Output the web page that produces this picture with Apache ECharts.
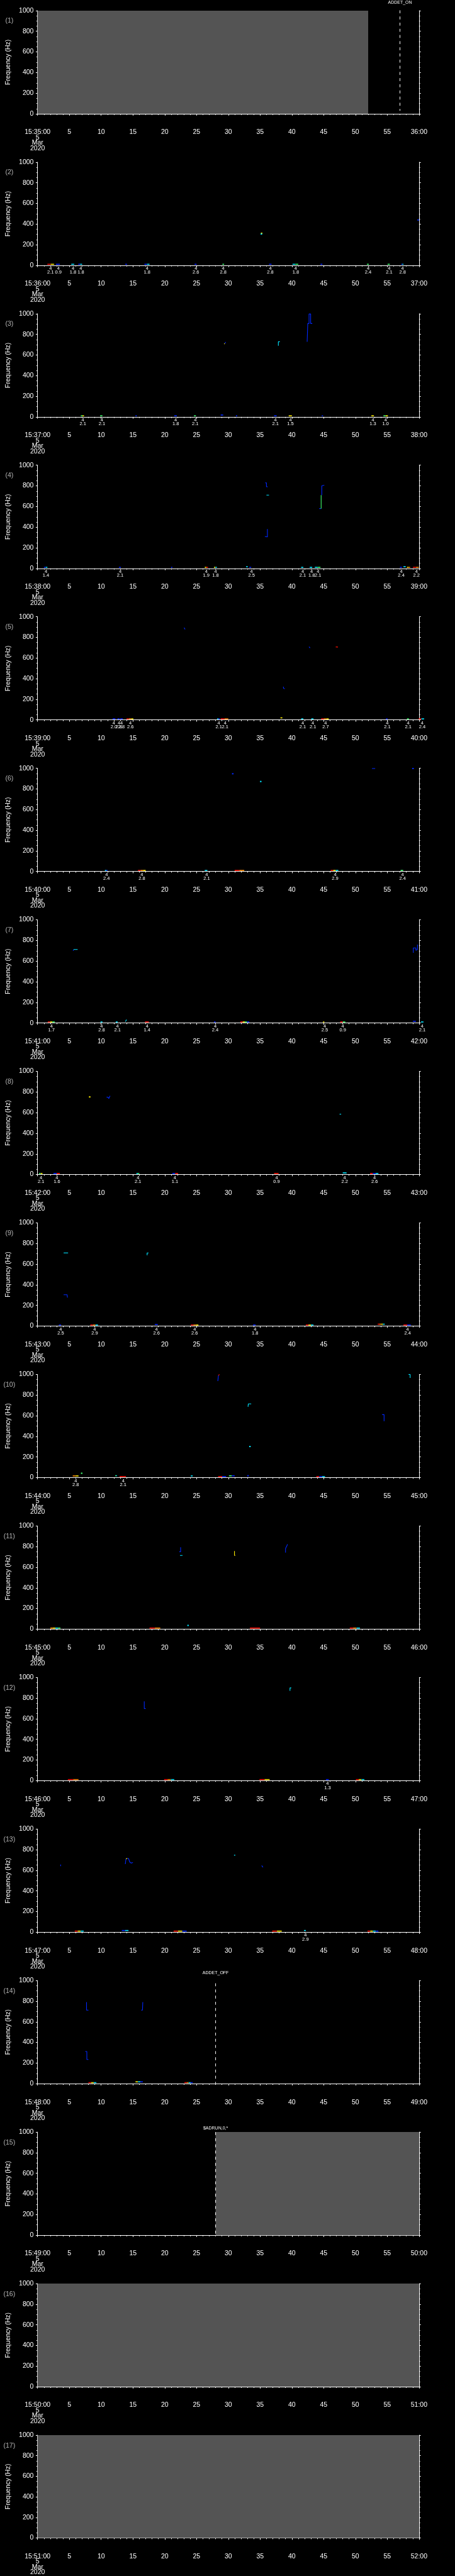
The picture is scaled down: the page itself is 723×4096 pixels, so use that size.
<!DOCTYPE html>
<html>
<head>
<meta charset="utf-8">
<script src="https://cdn.jsdelivr.net/npm/echarts@6/dist/echarts.min.js"></script>
<style>
html,body{margin:0;padding:0;background:#000;overflow:hidden;}
#chart{width:723px;height:4096px;}
</style>
</head>
<body>
<div id="chart"></div>
<script>
// ---------------- DATA ----------------
const startLabels = ['15:35:00','15:36:00','15:37:00','15:38:00','15:39:00','15:40:00','15:41:00','15:42:00','15:43:00','15:44:00','15:45:00','15:46:00','15:47:00','15:48:00','15:49:00','15:50:00','15:51:00'];
const endLabels = ['36:00','37:00','38:00','39:00','40:00','41:00','42:00','43:00','44:00','45:00','46:00','47:00','48:00','49:00','50:00','51:00','52:00'];
const dateLines = ['5','Mar','2020'];
const xTicks = [0,5,10,15,20,25,30,35,40,45,50,55,60];
const yTicks = [0,200,400,600,800,1000];

// gray "no data" bands: [panelIndex, tStart, tEnd]
const grayBands = [[0,0,52],[14,28,60],[15,0,60],[16,0,60]];
// flag lines: [panelIndex, t, fTop, fBottom, label]
const flags = [[0,57,1003,29,'ADDET_ON'],[13,28,973,2,'ADDET_OFF'],[14,28,1000,0,'$ADRUN,0,*']];

// low-frequency streaks: [t0, t1, colours, fCentre(optional)]
const streaks2 = [[1.54,2.59,'ry'],[2.9,3.5,'b'],[5.3,5.76,'c'],[6.4,7.0,'bc'],[13.8,14.06,'b'],[16.8,17.6,'bc'],[24.7,25.0,'b'],[29.07,29.34,'g'],[36.4,36.8,'b'],[40.1,41.0,'cg'],[44.5,44.8,'b'],[51.8,52.1,'g'],[55.05,55.4,'g'],[57.2,57.55,'bc']];
const streaks3 = [[6.8,7.3,'gy'],[9.84,10.2,'g'],[15.4,15.6,'b'],[21.5,21.9,'b'],[24.6,24.9,'g'],[28.8,29.2,'b',18],[31.2,31.4,'b'],[37.2,37.6,'b'],[39.5,40.0,'y'],[44.7,44.9,'b'],[52.5,52.9,'y'],[54.4,55.1,'gy']];
const streaks4 = [[1.0,1.54,'bc'],[12.8,13.1,'b'],[21.0,21.2,'b'],[26.3,26.8,'yr'],[27.75,28.2,'yc'],[32.8,33.06,'c',16],[33.3,33.6,'b'],[41.45,41.8,'c'],[42.8,43.2,'c'],[43.6,44.5,'cg'],[57.0,57.3,'b'],[57.55,57.9,'c',16],[58.1,58.6,'yo'],[59.05,59.95,'ro']];
const streaks5 = [[11.8,12.24,'b'],[12.56,12.9,'b'],[13.0,13.4,'b'],[14.0,15.06,'roy'],[28.25,28.66,'cb'],[28.8,30.0,'ro'],[38.2,38.5,'y',20],[41.45,41.8,'c'],[43.04,43.4,'c'],[44.6,45.8,'roy'],[54.8,55.05,'b'],[58.1,58.4,'g'],[59.95,60.8,'rc']];
const streaks6 = [[10.6,11.0,'cb'],[15.8,17.0,'roy'],[26.3,26.7,'c'],[31.0,32.5,'ro'],[46.1,47.3,'ryc'],[57.1,57.5,'g']];
const streaks7 = [[1.6,2.7,'ryg'],[9.9,10.2,'c'],[12.3,12.6,'c'],[16.9,17.5,'r'],[27.75,28.0,'b'],[31.9,33.3,'rygb'],[44.9,45.1,'y'],[47.6,48.4,'rg'],[59.05,59.5,'b',16],[60.3,60.7,'c']];
const streaks8 = [[0.23,0.77,'gy'],[2.5,3.5,'br'],[15.55,16.0,'cg'],[21.2,22.1,'br'],[37.2,37.9,'r'],[48.0,48.6,'c',16],[52.3,53.6,'rbc']];
const streaks9 = [[3.35,3.7,'b'],[8.3,9.5,'roc'],[18.45,18.9,'b',15],[24.1,25.3,'roy'],[33.9,34.3,'b'],[42.2,43.4,'ryc'],[53.5,54.6,'royc',18],[57.55,58.7,'rb']];
const streaks10 = [[5.53,6.44,'oy',16],[12.2,12.5,'gc',18],[12.9,13.9,'r'],[24.1,24.4,'c',16],[28.4,29.65,'rb'],[30.1,31.0,'gb',17],[43.85,45.2,'rbc']];
const streaks11 = [[2.0,3.6,'oycg'],[17.6,19.3,'ro'],[33.4,35.0,'r'],[49.1,50.7,'roc']];
const streaks12 = [[4.76,6.44,'ro'],[19.9,21.5,'roc'],[34.9,36.5,'ry'],[45.35,45.8,'b'],[50.07,51.4,'ryc']];
const streaks13 = [[5.85,7.25,'ryc'],[13.25,14.3,'bc',16],[21.4,23.45,'ryb'],[36.9,38.4,'ry'],[41.9,42.2,'c',16],[51.9,53.6,'rycb']];
const streaks14 = [[8.0,9.25,'ryc'],[15.4,16.55,'ycb',18],[23.1,24.4,'rocb']];

// isolated spectrogram spots: [t, f, colour]
const spots2 = [[35.24,311,'y'],[35.2,303,'c'],[59.86,440,'b']];
const spots6 = [[30.7,947,'b'],[35.1,872,'c'],[59.05,998,'b']];
const spots8 = [[8.2,752,'y']];
const spots10 = [[6.94,42,'g'],[33.1,18,'b'],[33.4,301,'c']];
const spots11 = [[23.67,36,'c']];

// tracks: [colour, [[t,f],...]]
const tracks3 = [['y',[[29.35,705],[29.45,712]]],['b',[[29.45,712],[29.6,725]]],['c',[[37.87,690],[37.87,728],[38.1,728]]],['b',[[42.4,728],[42.5,728],[42.5,905],[42.7,905],[42.7,998],[42.95,998],[42.95,905],[43.2,905]]]];
const tracks4 = [['b',[[35.8,829],[36.0,829],[36.0,791],[36.2,791]]],['c',[[36.0,710],[36.4,710]]],['b',[[35.75,310],[35.9,300],[36.15,305],[36.15,381]]],['b',[[44.3,580],[44.6,580]]],['g',[[44.6,580],[44.6,710]]],['b',[[44.7,710],[44.7,800],[45.1,806]]]];
const tracks5 = [['b',[[23.05,895],[23.2,878]]],['b',[[38.65,322],[38.7,305],[38.9,303]]],['b',[[42.7,709],[42.85,697]]],['r',[[46.9,708],[47.25,706]]]];
const tracks6 = [['b',[[52.6,998],[53.1,998]]]];
const tracks7 = [['b',[[5.6,700],[5.67,712]]],['c',[[5.67,712],[6.3,712]]],['c',[[13.8,13],[14.0,32]]],['b',[[59.1,680],[59.1,728],[59.5,728],[59.5,705],[59.75,712],[59.75,760]]]];
const tracks8 = [['b',[[10.85,750],[11.05,750],[11.2,737],[11.4,762]]],['c',[[47.5,585],[47.75,585]]]];
const tracks9 = [['c',[[4.1,709],[4.8,709]]],['b',[[4.1,303],[4.65,303],[4.7,276]]],['c',[[17.23,686],[17.23,709],[17.45,709]]]];
const tracks10 = [['b',[[28.35,935],[28.45,990]]],['r',[[28.45,990],[28.45,1000],[28.6,1000]]],['c',[[33.1,686],[33.15,714],[33.6,714]]],['b',[[54.2,610],[54.5,610],[54.5,547]]],['c',[[58.35,1000],[58.6,1000],[58.6,966]]]];
const tracks11 = [['b',[[22.3,750],[22.5,750],[22.5,794]]],['c',[[22.4,714],[22.8,714]]],['y',[[30.97,756],[30.97,714],[31.1,714]]],['b',[[39.0,741],[39.0,781],[39.2,805],[39.3,822]]]];
const tracks12 = [['b',[[16.78,768],[16.78,699],[17.0,699]]],['c',[[39.7,870],[39.7,899],[39.9,899]]]];
const tracks13 = [['b',[[3.63,656],[3.63,640]]],['b',[[13.8,660],[13.9,710]]],['y',[[13.9,710],[14.1,715]]],['b',[[14.1,715],[14.3,715],[14.5,680],[14.7,670],[15.0,675]]],['c',[[30.9,746],[31.1,746]]],['b',[[35.25,645],[35.45,629]]]];
const tracks14 = [['b',[[7.7,791],[7.7,713],[8.0,713]]],['b',[[16.3,713],[16.5,713],[16.55,791]]],['b',[[7.5,312],[7.75,312],[7.75,234],[8.0,234]]]];

// event markers: [t, code, value]
const markers2 = [[2.04,4,'2.1'],[3.27,4,'0.9'],[5.58,4,'1.8'],[6.8,4,'1.8'],[17.23,4,'1.8'],[24.9,4,'2.6'],[29.2,4,'2.8'],[36.6,4,'2.8'],[40.6,4,'1.8'],[52.0,4,'2.4'],[55.3,4,'2.1'],[57.4,4,'2.8']];
const markers3 = [[7.12,4,'2.1'],[10.11,4,'2.1'],[21.72,4,'1.8'],[24.8,4,'2.1'],[37.41,4,'2.1'],[39.77,4,'1.5'],[52.74,4,'1.3'],[54.74,4,'1.0']];
const markers4 = [[1.32,4,'1.4'],[13.0,4,'2.1'],[26.53,4,'1.9'],[28.0,4,'1.8'],[33.65,4,'2.5'],[41.7,4,'2.1'],[43.1,4,'1.8'],[44.1,4,'2.1'],[57.2,4,'2.4'],[59.6,4,'2.2']];
const markers5 = [[12.0,4,'2.0'],[12.8,4,'2.8'],[13.2,4,'2.8'],[14.6,4,'2.6'],[28.5,4,'2.1'],[29.5,4,'2.1'],[41.7,4,'2.1'],[43.3,4,'2.1'],[45.3,4,'2.7'],[55.0,4,'2.1'],[58.3,4,'2.1'],[60.5,4,'2.4']];
const markers6 = [[10.84,4,'2.4'],[16.4,4,'2.8'],[26.6,4,'2.1'],[46.8,4,'2.9'],[57.4,4,'2.4']];
const markers7 = [[2.18,4,'1.7'],[10.07,4,'2.8'],[12.56,4,'2.1'],[17.23,4,'1.4'],[27.94,4,'2.4'],[45.17,4,'2.5'],[48.0,4,'0.9'],[60.5,4,'2.1']];
const markers8 = [[0.54,4,'2.1'],[3.04,4,'1.6'],[15.8,4,'2.1'],[21.6,4,'1.1'],[37.6,4,'0.9'],[48.3,4,'2.2'],[53.0,4,'2.6']];
const markers9 = [[3.63,4,'2.5'],[8.98,4,'2.9'],[18.7,4,'2.6'],[24.7,4,'2.6'],[34.2,4,'1.8'],[58.2,4,'2.4']];
const markers10 = [[5.99,4,'2.8'],[13.47,4,'2.1']];
const markers12 = [[45.6,4,'1.3']];
const markers13 = [[42.13,4,'2.9']];

const panelStreaks = {1:streaks2,2:streaks3,3:streaks4,4:streaks5,5:streaks6,6:streaks7,7:streaks8,8:streaks9,9:streaks10,10:streaks11,11:streaks12,12:streaks13,13:streaks14};
const panelSpots = {1:spots2,5:spots6,7:spots8,9:spots10,10:spots11};
const panelTracks = {2:tracks3,3:tracks4,4:tracks5,5:tracks6,6:tracks7,7:tracks8,8:tracks9,9:tracks10,10:tracks11,11:tracks12,12:tracks13,13:tracks14};
const panelMarkers = {1:markers2,2:markers3,3:markers4,4:markers5,5:markers6,6:markers7,7:markers8,8:markers9,9:markers10,11:markers12,12:markers13};

// ---------------- STYLE / LAYOUT ----------------
const JET = {b:'#0028ff', c:'#00e4ff', g:'#40ff70', y:'#ffee00', o:'#ff8c00', r:'#ff1000'};
const GRAY = '#545454';
const FONT = "'Liberation Sans', Arial, sans-serif";
const S = 0.705;
const NP = 17;
const PH = 4096 / NP;
const GL = 80.7 * S, GR = 944.5 * S, GT = 24 * S, GH = 232.7 * S;

const grids = [], xAxes = [], yAxes = [], series = [], graphics = [];

function rectRender(items) {
  return function (params, api) {
    const a = api.coord([api.value(0), api.value(3)]);
    const b = api.coord([api.value(1), api.value(2)]);
    const it = items[params.dataIndex];
    return {type:'rect', shape:{x:a[0], y:a[1], width:Math.max(b[0]-a[0],0.9), height:Math.max(b[1]-a[1],1.2)}, style:{fill:it[4]}};
  };
}
function addRects(k, items, z) {
  if (!items.length) return;
  series.push({type:'custom', xAxisIndex:k, yAxisIndex:2*k, silent:true, animation:false, clip:false, z:z,
    encode:{x:[0,1], y:[2,3]},
    data: items.map(it => [it[0], it[1], it[2], it[3]]),
    renderItem: rectRender(items)});
}

for (let k = 0; k < NP; k++) {
  const top = k * PH + GT;
  grids.push({left:GL, top:top, width:GR-GL, height:GH});
  xAxes.push({
    gridIndex:k, type:'value', min:xTicks[0], max:xTicks[xTicks.length-1], interval:5, position:'bottom', offset:23.8*S,
    axisLine:{show:true, lineStyle:{color:'#fff', width:1}},
    axisTick:{show:true, length:2.8, lineStyle:{color:'#fff', width:1}},
    minorTick:{show:true, splitNumber:5, length:1.8, lineStyle:{color:'#fff', width:1}},
    splitLine:{show:false},
    axisLabel:{show:true, interval:0, showMinLabel:true, showMaxLabel:true, color:'#fff', fontSize:10.5, fontFamily:FONT, lineHeight:8.5, margin:8.4,
      formatter: (v => (Math.abs(v - xTicks[0]) < 1e-6 ? [startLabels[k]].concat(dateLines).join('\n') : (Math.abs(v - 60) < 1e-6 ? endLabels[k] : String(Math.round(v)))))}
  });
  const yCommon = {gridIndex:k, type:'value', min:yTicks[0], max:yTicks[yTicks.length-1], interval:200,
    axisLine:{show:true, lineStyle:{color:'#fff', width:1}},
    axisTick:{show:true, inside:false, length:2.8, lineStyle:{color:'#fff', width:1}},
    minorTick:{show:true, splitNumber:4, length:1.8, lineStyle:{color:'#fff', width:1}},
    splitLine:{show:false}};
  yAxes.push(Object.assign({}, yCommon, {position:'left',
    axisLabel:{show:true, color:'#fff', fontSize:10.5, fontFamily:FONT, margin:6.3, formatter: v => String(Math.round(v))},
    name:'Frequency (Hz)', nameLocation:'middle', nameGap:40.7, nameRotate:90,
    nameTextStyle:{color:'#fff', fontSize:10.5, fontFamily:FONT}}));
  yAxes.push(Object.assign({}, yCommon, {position:'right', axisLabel:{show:false}}));

  graphics.push({type:'text', x:14.8, y:k*PH + 33.6, silent:true,
    style:{text:'(' + (k+1) + ')', fill:'#b4b4b4', font:'10.5px ' + FONT, align:'center', verticalAlign:'middle', textAlign:'center', textVerticalAlign:'middle'}});

  // gray bands
  const g = grayBands.filter(b => b[0] === k).map(b => [b[1], b[2], 0, 1000, GRAY]);
  addRects(k, g, 1);

  // streaks
  const st = [];
  (panelStreaks[k] || []).forEach(s => {
    const codes = s[2].split('');
    const fc = s[3] !== undefined ? s[3] : 10;
    const step = (s[1] - s[0]) / codes.length;
    codes.forEach((c, i) => st.push([s[0] + i*step, s[0] + (i+1)*step, fc - 5, fc + 5, JET[c]]));
  });
  (panelSpots[k] || []).forEach(p => st.push([p[0] - 0.12, p[0] + 0.12, p[1] - 6, p[1] + 6, JET[p[2]]]));
  addRects(k, st, 3);

  // tracks
  (panelTracks[k] || []).forEach(tr => {
    series.push({type:'line', xAxisIndex:k, yAxisIndex:2*k, data:tr[1], symbol:'none', silent:true, animation:false, z:4,
      lineStyle:{color:JET[tr[0]], width:1.1}});
  });

  // markers
  const mk = panelMarkers[k] || [];
  if (mk.length) {
    series.push({type:'custom', xAxisIndex:k, yAxisIndex:2*k, silent:true, animation:false, clip:false, z:5,
      encode:{x:0, y:1},
      data: mk.map(m => [m[0], 0]),
      renderItem: function (params, api) {
        const p = api.coord([api.value(0), api.value(1)]);
        const m = mk[params.dataIndex];
        const st = {fill:'#fff', font:'7.5px ' + FONT, align:'center', verticalAlign:'middle', textAlign:'center', textVerticalAlign:'middle'};
        return {type:'group', children:[
          {type:'text', x:p[0], y:p[1] + 5.1, style:Object.assign({text:String(m[1])}, st)},
          {type:'text', x:p[0], y:p[1] + 11.3, style:Object.assign({text:m[2]}, st)}
        ]};
      }});
  }

  // flags
  const fl = flags.filter(f => f[0] === k);
  if (fl.length) {
    series.push({type:'custom', xAxisIndex:k, yAxisIndex:2*k, silent:true, animation:false, clip:false, z:6,
      encode:{x:0, y:[1,2]},
      data: fl.map(f => [f[1], f[2], f[3]]),
      renderItem: function (params, api) {
        const f = fl[params.dataIndex];
        const a = api.coord([api.value(0), api.value(1)]);
        const b = api.coord([api.value(0), api.value(2)]);
        const topPix = api.coord([api.value(0), 1000])[1];
        const lblY = topPix - (f[4].charAt(0) === '$' ? 6.0 : 12.4);
        return {type:'group', children:[
          {type:'line', shape:{x1:a[0], y1:a[1], x2:b[0], y2:b[1]}, style:{stroke:'#fff', lineWidth:1, lineDash:[4.7,5.1]}},
          {type:'text', x:a[0], y:lblY, style:{text:f[4], fill:'#fff', font:'7px ' + FONT, align:'center', verticalAlign:'middle', textAlign:'center', textVerticalAlign:'middle'}}
        ]};
      }});
  }
}

const chart = echarts.init(document.getElementById('chart'), null, {renderer:'canvas', width:723, height:4096});
chart.setOption({
  backgroundColor:'#000',
  animation:false,
  grid:grids, xAxis:xAxes, yAxis:yAxes, series:series, graphic:graphics
});
</script>
</body>
</html>
